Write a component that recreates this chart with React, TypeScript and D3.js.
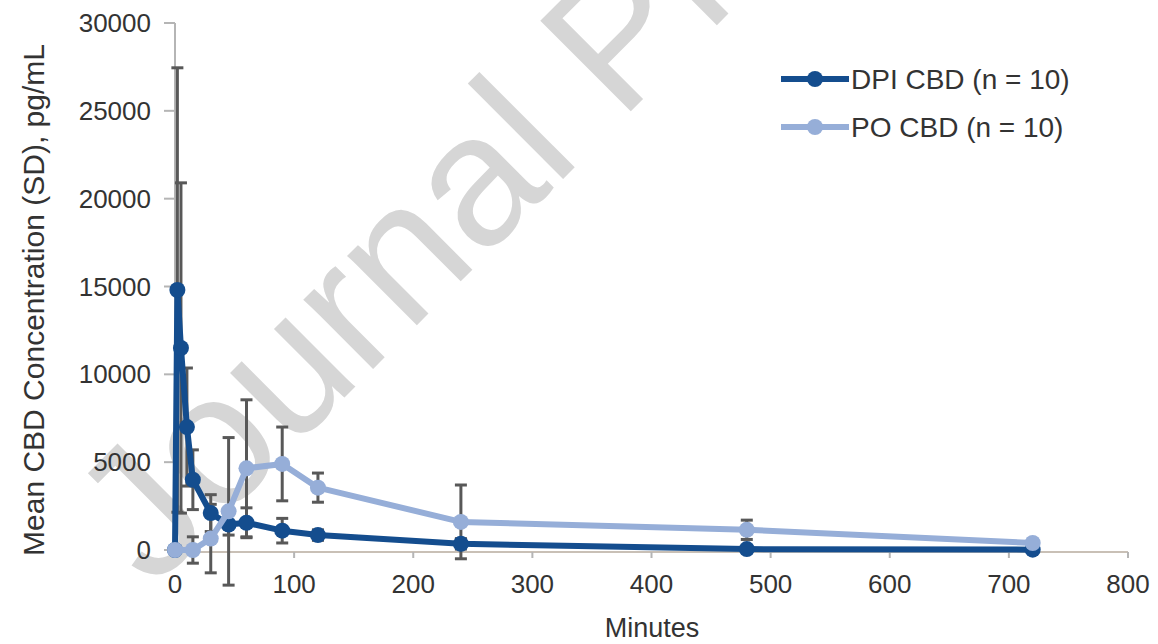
import React from "react";
import * as d3 from "d3";

const dpiTimes = [0, 2, 5, 10, 15, 30, 45, 60, 90, 120, 240, 480, 720];
const dpiMeans = [0, 14800, 11500, 7000, 4000, 2100, 1450, 1550, 1100, 850, 350, 50, 20];
const dpiSD = [0, 12650, 9400, 3360, 1700, 1050, 600, 850, 700, 300, 300, 200, 50];

const poTimes = [0, 15, 30, 45, 60, 90, 120, 240, 480, 720];
const poMeans = [0, 0, 650, 2200, 4650, 4900, 3550, 1600, 1150, 400];
const poSD = [0, 750, 1950, 4200, 3900, 2100, 830, 2100, 550, 100];

const xTicks = [0, 100, 200, 300, 400, 500, 600, 700, 800];
const yTicks = [0, 5000, 10000, 15000, 20000, 25000, 30000];

const seriesNames = ["DPI CBD (n = 10)", "PO CBD (n = 10)"];
const seriesColors = ["#144d8e", "#96aed8"];

const W = 1158;
const H = 644;
const FONT = "'Liberation Sans', Arial, Helvetica, sans-serif";

export default function App() {
  const x = d3.scaleLinear().domain([0, 800]).range([175, 1128]);
  const y = d3.scaleLinear().domain([0, 30000]).range([550, 23]);

  const series = [
    { t: dpiTimes, m: dpiMeans, sd: dpiSD, color: seriesColors[0], name: seriesNames[0] },
    { t: poTimes, m: poMeans, sd: poSD, color: seriesColors[1], name: seriesNames[1] },
  ];

  const line = d3
    .line<[number, number]>()
    .x((d) => x(d[0]))
    .y((d) => y(d[1]));

  const capW = 6;

  return (
    <svg
      width={W}
      height={H}
      style={{ position: "absolute", left: 0, top: 0, background: "#fff" }}
      fontFamily={FONT}
    >
      <rect x={0} y={0} width={W} height={H} fill="#fff" />
      {/* watermark */}
      <text
        transform="translate(152,590) rotate(-45)"
        fontSize={186}
        fill="#d6d6d6"
        fontFamily={FONT}
      >
        Journal Pre-proof
      </text>

      {/* y axis */}
      <line x1={175} x2={175} y1={y(30000)} y2={y(0)} stroke="#b5b5b5" strokeWidth={2} />
      {yTicks.map((v) => (
        <g key={"yt" + v}>
          <line x1={164} x2={175} y1={y(v)} y2={y(v)} stroke="#b5b5b5" strokeWidth={2} />
          <text x={151} y={y(v)} dy="0.35em" textAnchor="end" fontSize={26} fill="#333">
            {v}
          </text>
        </g>
      ))}

      {/* x axis */}
      <line x1={x(0)} x2={x(800)} y1={y(0) + 2} y2={y(0) + 2} stroke="#c9c0b6" strokeWidth={2} />
      {xTicks.map((v) => (
        <g key={"xt" + v}>
          <line x1={x(v)} x2={x(v)} y1={y(0) + 2} y2={y(0) + 8} stroke="#b5b5b5" strokeWidth={2} />
          <text x={x(v)} y={593} textAnchor="middle" fontSize={26} fill="#333">
            {v}
          </text>
        </g>
      ))}

      <text x={652} y={637} textAnchor="middle" fontSize={27} fill="#333">
        Minutes
      </text>
      <text
        transform="translate(33,300) rotate(-90)"
        textAnchor="middle"
        dy="0.35em"
        fontSize={30}
        fill="#333"
      >
        Mean CBD Concentration (SD), pg/mL
      </text>

      {/* error bars */}
      {series.map((s, si) =>
        s.t.map((t, i) =>
          s.sd[i] > 0 ? (
            <g key={"eb" + si + "-" + i} stroke="#585858" strokeWidth={3}>
              <line x1={x(t)} x2={x(t)} y1={y(s.m[i] + s.sd[i])} y2={y(s.m[i] - s.sd[i])} />
              <line x1={x(t) - capW} x2={x(t) + capW} y1={y(s.m[i] + s.sd[i])} y2={y(s.m[i] + s.sd[i])} />
              <line x1={x(t) - capW} x2={x(t) + capW} y1={y(s.m[i] - s.sd[i])} y2={y(s.m[i] - s.sd[i])} />
            </g>
          ) : null
        )
      )}

      {/* lines and markers */}
      {series.map((s, si) => {
        const pts: [number, number][] = s.t.map((t, i) => [t, s.m[i]]);
        return (
          <g key={"s" + si}>
            <path d={line(pts) || ""} fill="none" stroke={s.color} strokeWidth={6} strokeLinejoin="round" />
            {pts.map((p, i) => (
              <circle key={i} cx={x(p[0])} cy={y(p[1])} r={8} fill={s.color} />
            ))}
          </g>
        );
      })}

      {/* legend */}
      {series.map((s, si) => {
        const ly = 79 + si * 48;
        return (
          <g key={"lg" + si}>
            <line x1={781} x2={849} y1={ly} y2={ly} stroke={s.color} strokeWidth={6} />
            <circle cx={815} cy={ly} r={8} fill={s.color} />
            <text x={851} y={ly} dy="0.35em" fontSize={28} fill="#333">
              {s.name}
            </text>
          </g>
        );
      })}
    </svg>
  );
}
